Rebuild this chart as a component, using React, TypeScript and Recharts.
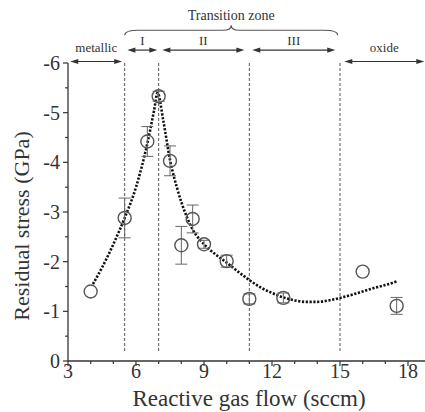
import React from 'react';
import { ComposedChart, Line, Scatter, XAxis, YAxis, ErrorBar, ReferenceLine } from 'recharts';

// measured points
const flow = [4, 5.5, 6.5, 7, 7.5, 8, 8.5, 9, 10, 11, 12.5, 16, 17.5];
const stress = [-1.4, -2.88, -4.42, -5.33, -4.03, -2.33, -2.86, -2.35, -2.01, -1.25, -1.27, -1.8, -1.11];
const stressErr = [0, 0.4, 0.3, 0.1, 0.3, 0.38, 0.28, 0.08, 0.12, 0.1, 0.1, 0, 0.17];

// dotted fit curve
const fitFlow = [4.1, 4.5, 5, 5.5, 6, 6.5, 6.8, 6.95, 7.2, 7.5, 7.8, 8, 8.5, 9, 9.5, 10, 10.5, 11, 11.5, 12, 12.5, 13, 13.5, 14, 14.5, 15, 15.5, 16, 16.5, 17, 17.5];
const fitStress = [-1.55, -1.88, -2.35, -2.88, -3.5, -4.38, -5.05, -5.4, -4.85, -4.05, -3.5, -3.2, -2.65, -2.35, -2.15, -1.98, -1.8, -1.63, -1.48, -1.37, -1.28, -1.22, -1.19, -1.19, -1.22, -1.27, -1.33, -1.4, -1.47, -1.53, -1.6];

const xTicks = [3, 4, 5, 6, 7, 8, 9, 10, 11, 12, 13, 14, 15, 16, 17, 18];
const yTicks = [-6, -5.5, -5, -4.5, -4, -3.5, -3, -2.5, -2, -1.5, -1, -0.5, 0];

const boundaries = [5.5, 7, 11, 15];
const zoneNames = ['metallic', 'I', 'II', 'III', 'oxide'];
const zoneFrom = [3.1, 5.62, 7.16, 11.13, 15.19];
const zoneTo = [5.39, 6.94, 10.78, 14.79, 18.72];
const zoneUpper = [false, true, true, true, false];

const points = flow.map((x, i) => ({ x, y: stress[i], err: stressErr[i] }));
const fit = fitFlow.map((x, i) => ({ x, y: fitStress[i] }));

const FONT = 'Liberation Serif';
const INK = '#333';

const XTick = (props: any) => {
  const { x, y, payload } = props;
  const major = payload.value % 3 === 0;
  return (
    <g>
      <line x1={x} x2={x} y1={y} y2={y + (major ? 5 : 3)} stroke={INK} strokeWidth={1.2} />
      {major && (
        <text x={x} y={y + 17} textAnchor="middle" fontFamily={FONT} fontSize={20} fill={INK}>
          {payload.value}
        </text>
      )}
    </g>
  );
};

const YTick = (props: any) => {
  const { x, y, payload } = props;
  const major = Number.isInteger(payload.value);
  return (
    <g>
      <line x1={x} x2={x - (major ? 5 : 3)} y1={y} y2={y} stroke={INK} strokeWidth={1.2} />
      {major && (
        <text x={x - 8} y={y + 7} textAnchor="end" fontFamily={FONT} fontSize={20} fill={INK}>
          {String(payload.value)}
        </text>
      )}
    </g>
  );
};

const arrowShape = (name: string, upper: boolean) => (p: any) => {
  const { x1, y1, x2 } = p;
  const y = y1;
  const mid = (x1 + x2) / 2;
  return (
    <g>
      <line x1={x1 + 4} x2={x2 - 4} y1={y} y2={y} stroke={INK} strokeWidth={1.2} />
      <polygon points={`${x1},${y} ${x1 + 8},${y - 2.6} ${x1 + 8},${y + 2.6}`} fill={INK} />
      <polygon points={`${x2},${y} ${x2 - 8},${y - 2.6} ${x2 - 8},${y + 2.6}`} fill={INK} />
      <text x={mid} y={y - (upper ? 5 : 10)} textAnchor="middle" fontFamily={FONT} fontSize={13} fill={INK}>
        {name}
      </text>
    </g>
  );
};

const braceShape = (p: any) => {
  const { x1, y1, x2 } = p;
  const y = y1;
  const mid = (x1 + x2) / 2;
  const d = `M${x1},${y + 5} Q${x1},${y} ${x1 + 14},${y} L${mid - 8},${y} Q${mid},${y} ${mid},${y - 5} Q${mid},${y} ${mid + 8},${y} L${x2 - 14},${y} Q${x2},${y} ${x2},${y + 5}`;
  return (
    <g>
      <path d={d} fill="none" stroke="#555" strokeWidth={1.1} />
      <text x={mid} y={y - 10} textAnchor="middle" fontFamily={FONT} fontSize={14} fill={INK}>
        Transition zone
      </text>
    </g>
  );
};

export default function App() {
  return (
    <div style={{ position: 'absolute', left: 0, top: 0 }}>
      <ComposedChart width={425} height={412} margin={{ top: 63, right: 0, bottom: 0, left: 0 }}>
        <XAxis
          dataKey="x"
          type="number"
          domain={[3, 18.75]}
          ticks={xTicks}
          interval={0}
          height={51}
          tickSize={0}
          tickMargin={0}
          tickLine={false}
          tick={XTick}
          axisLine={{ stroke: INK, strokeWidth: 1.3 }}
          label={{
            content: () => (
              <text x={249} y={406} textAnchor="middle" fontFamily={FONT} fontSize={23} fill={INK}>
                Reactive gas flow (sccm)
              </text>
            ),
          }}
        />
        <YAxis
          type="number"
          domain={[-6, 0]}
          reversed
          ticks={yTicks}
          interval={0}
          width={68}
          tickSize={0}
          tickMargin={0}
          tickLine={false}
          tick={YTick}
          axisLine={{ stroke: INK, strokeWidth: 1.3 }}
          label={{
            content: () => (
              <text
                x={29}
                y={226}
                transform="rotate(-90 29 226)"
                textAnchor="middle"
                fontFamily={FONT}
                fontSize={22}
                fill={INK}
              >
                Residual stress (GPa)
              </text>
            ),
          }}
        />
        {boundaries.map((b) => (
          <ReferenceLine
            key={b}
            segment={[{ x: b, y: -6 }, { x: b, y: -0.2 }]}
            stroke="#555"
            strokeWidth={1}
            strokeDasharray="3 2"
            ifOverflow="visible"
          />
        ))}
        {zoneNames.map((n, i) => {
          const lvl = zoneUpper[i] ? -6.26 : -6.03;
          return (
            <ReferenceLine
              key={n}
              segment={[{ x: zoneFrom[i], y: lvl }, { x: zoneTo[i], y: lvl }]}
              ifOverflow="visible"
              shape={arrowShape(n, zoneUpper[i])}
            />
          );
        })}
        <ReferenceLine
          segment={[{ x: boundaries[0], y: -6.66 }, { x: boundaries[3] - 0.1, y: -6.66 }]}
          ifOverflow="visible"
          shape={braceShape}
        />
        <Line
          data={fit}
          dataKey="y"
          type="monotone"
          dot={false}
          stroke="#111"
          strokeWidth={2.6}
          strokeDasharray="2.2 1.6"
          isAnimationActive={false}
        />
        <Scatter
          data={points}
          dataKey="y"
          isAnimationActive={false}
          shape={(p: any) => <circle cx={p.cx} cy={p.cy} r={6.5} fill="none" stroke="#555" strokeWidth={1.4} />}
        >
          <ErrorBar dataKey="err" direction="y" width={6} stroke="#666" strokeWidth={1} />
        </Scatter>
      </ComposedChart>
    </div>
  );
}
